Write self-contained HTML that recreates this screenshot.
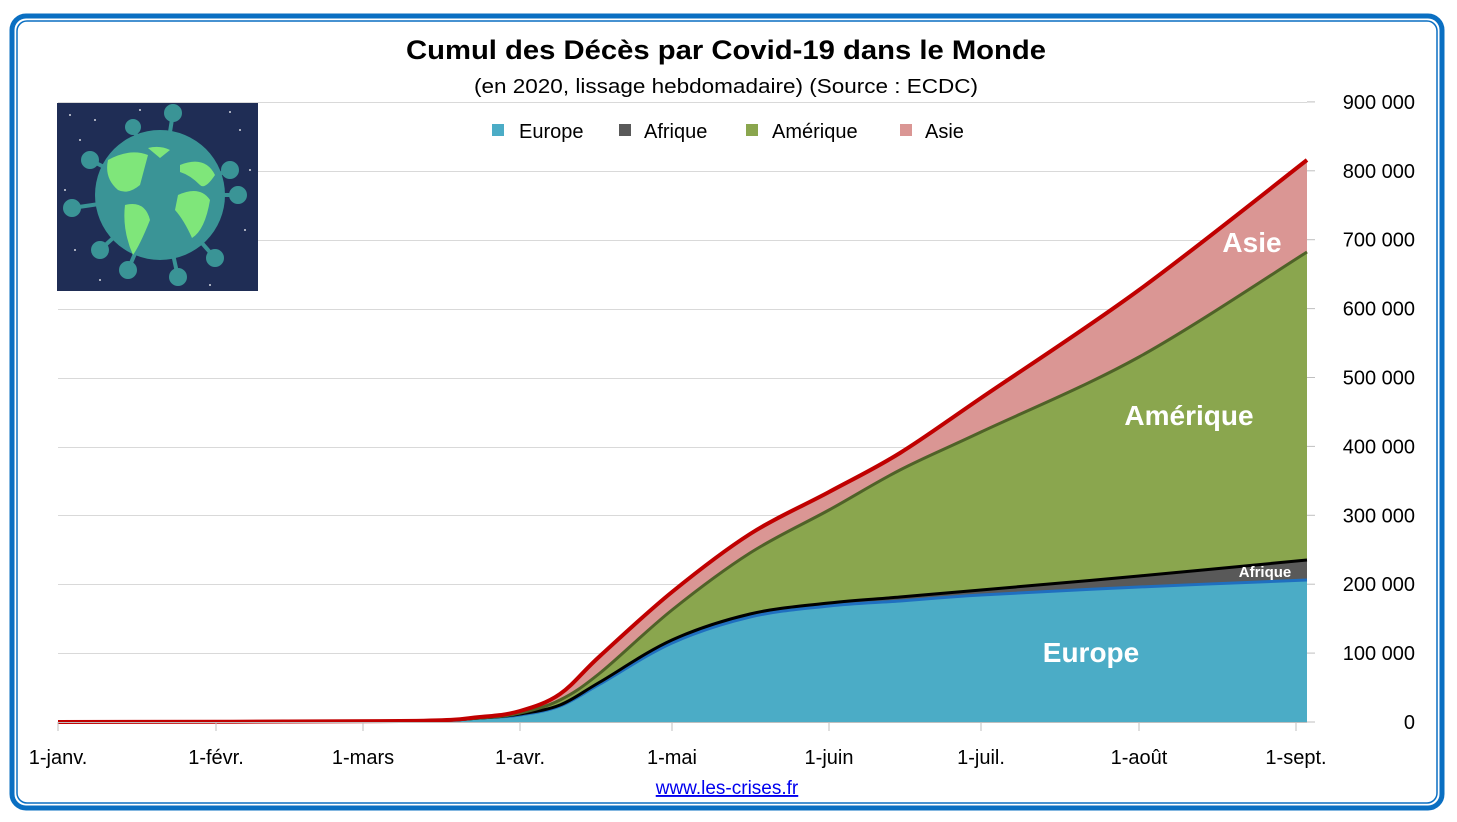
<!DOCTYPE html>
<html><head><meta charset="utf-8"><style>
html,body{margin:0;padding:0;background:#fff;}
body{width:1457px;height:822px;overflow:hidden;position:relative;font-family:"Liberation Sans","DejaVu Sans",sans-serif;}
</style></head><body>
<svg id="s" width="1457" height="822" xmlns="http://www.w3.org/2000/svg" style="position:absolute;left:0;top:0">
<rect x="12" y="16" width="1430" height="792" rx="14" fill="none" stroke="#0a6fc2" stroke-width="5"/>
<rect x="17" y="21" width="1420" height="782" rx="10" fill="none" stroke="#0a6fc2" stroke-width="1.5"/>
<g stroke="#d9d9d9" stroke-width="1">
<line x1="58" x2="1307" y1="102.5" y2="102.5"/><line x1="58" x2="1307" y1="171.5" y2="171.5"/>
<line x1="58" x2="1307" y1="240.5" y2="240.5"/><line x1="58" x2="1307" y1="309.5" y2="309.5"/>
<line x1="58" x2="1307" y1="378.5" y2="378.5"/><line x1="58" x2="1307" y1="447.5" y2="447.5"/>
<line x1="58" x2="1307" y1="515.5" y2="515.5"/><line x1="58" x2="1307" y1="584.5" y2="584.5"/>
<line x1="58" x2="1307" y1="653.5" y2="653.5"/>
</g>
<g id="areas"></g>
<g stroke="#bfbfbf" stroke-width="1">
<line x1="58" x2="1307" y1="722.5" y2="722.5"/>
</g>
<g stroke="#bfbfbf" id="ticks"></g>
<rect x="57" y="103" width="201" height="188" fill="#1f2d55"/>
<g fill="#fff" opacity="0.8">
<circle cx="70" cy="115" r="1"/><circle cx="95" cy="120" r="1"/><circle cx="240" cy="130" r="1"/><circle cx="230" cy="112" r="1"/><circle cx="65" cy="190" r="1"/><circle cx="75" cy="250" r="1"/><circle cx="245" cy="230" r="1"/><circle cx="250" cy="170" r="1"/><circle cx="100" cy="280" r="1"/><circle cx="210" cy="285" r="1"/><circle cx="140" cy="110" r="1"/><circle cx="80" cy="140" r="1"/>
</g>
<g stroke="#3a9496" stroke-width="4" fill="#3a9496">
<line x1="160" y1="195" x2="173" y2="113"/><circle cx="173" cy="113" r="7"/>
<line x1="160" y1="195" x2="90" y2="160"/><circle cx="90" cy="160" r="7"/>
<line x1="160" y1="195" x2="72" y2="208"/><circle cx="72" cy="208" r="7"/>
<line x1="160" y1="195" x2="230" y2="170"/><circle cx="230" cy="170" r="7"/>
<line x1="160" y1="195" x2="238" y2="195"/><circle cx="238" cy="195" r="7"/>
<line x1="160" y1="195" x2="128" y2="270"/><circle cx="128" cy="270" r="7"/>
<line x1="160" y1="195" x2="178" y2="277"/><circle cx="178" cy="277" r="7"/>
<line x1="160" y1="195" x2="215" y2="258"/><circle cx="215" cy="258" r="7"/>
<line x1="160" y1="195" x2="100" y2="250"/><circle cx="100" cy="250" r="7"/>
<line x1="160" y1="195" x2="133" y2="127"/><circle cx="133" cy="127" r="6"/>
</g>
<circle cx="160" cy="195" r="65" fill="#3a9496"/>
<path d="M108 160 Q130 148 148 155 L140 185 Q128 195 118 190 Q104 178 108 160Z M125 205 Q145 200 150 220 Q140 245 133 255 Q122 230 125 205Z M180 165 Q205 155 215 175 Q205 190 200 185 Q190 175 180 172Z M178 195 Q200 185 210 200 Q205 230 192 238 Q184 220 175 210Z M148 148 Q160 145 170 150 L160 158Z" fill="#7fe67a"/>
<g font-size="27" font-weight="bold" text-anchor="middle" fill="#000"><text x="726" y="59" textLength="640" lengthAdjust="spacingAndGlyphs">Cumul des Décès par Covid-19 dans le Monde</text></g>
<text x="726" y="93" font-size="20" text-anchor="middle" textLength="504" lengthAdjust="spacingAndGlyphs">(en 2020, lissage hebdomadaire) (Source : ECDC)</text>
<g font-size="20">
<rect x="492" y="124" width="12" height="12" fill="#4bacc6"/><text x="519" y="138">Europe</text>
<rect x="619" y="124" width="12" height="12" fill="#595959"/><text x="644" y="138">Afrique</text>
<rect x="746" y="124" width="12" height="12" fill="#8aa64e"/><text x="772" y="138">Amérique</text>
<rect x="900" y="124" width="12" height="12" fill="#da9694"/><text x="925" y="138">Asie</text>
</g>
<g font-size="20" id="ylab"></g>
<g font-size="20" text-anchor="middle" id="xlab"></g>
<g fill="#fff" font-weight="bold" text-anchor="middle">
<text x="1252" y="252" font-size="28">Asie</text>
<text x="1189" y="425" font-size="28">Amérique</text>
<text x="1091" y="662" font-size="28">Europe</text>
<text x="1265" y="577" font-size="15">Afrique</text>
</g>
<text x="727" y="794" font-size="19" fill="#0000ee" text-anchor="middle" text-decoration="underline">www.les-crises.fr</text>
</svg>
<script>
const X=[58,400,480,520,560,600,672,750,829,900,981,1139,1307];
const T=[722,721,717,711,694,656,592,534,492,453,398,290,160];
const M=[722,721,718,713,700,673,610,553,510,470,432,357,252];
const A=[722,721,718,714,705,682,640,614,603,597,590,576,560];
const E=[722,721,718,715,706,684,643,617,606,601,595,587,580];
function sp(xs,ys){let d="M"+xs[0]+" "+ys[0];for(let i=0;i<xs.length-1;i++){const p0=i?i-1:i,p3=i+2<xs.length?i+2:i+1;const c1x=xs[i]+(xs[i+1]-xs[p0])/6,c1y=ys[i]+(ys[i+1]-ys[p0])/6,c2x=xs[i+1]-(xs[p3]-xs[i])/6,c2y=ys[i+1]-(ys[p3]-ys[i])/6;d+=` C${c1x.toFixed(1)} ${c1y.toFixed(1)} ${c2x.toFixed(1)} ${c2y.toFixed(1)} ${xs[i+1]} ${ys[i+1]}`;}return d;}
const g=document.getElementById("areas");let h="";
const close=" L1307 722 L58 722Z";
h+=`<path d="${sp(X,T)}${close}" fill="#da9694"/>`;
h+=`<path d="${sp(X,M)}${close}" fill="#8aa64e"/>`;
h+=`<path d="${sp(X,A)}${close}" fill="#595959"/>`;
h+=`<path d="${sp(X,E)}${close}" fill="#4bacc6"/>`;
h+=`<path d="${sp(X,E)}" fill="none" stroke="#1f6fc0" stroke-width="3"/>`;
h+=`<path d="${sp(X,A)}" fill="none" stroke="#000" stroke-width="3"/>`;
h+=`<path d="${sp(X,M)}" fill="none" stroke="#4f6228" stroke-width="3"/>`;
h+=`<path d="${sp(X,T)}" fill="none" stroke="#c00000" stroke-width="4"/>`;
g.innerHTML=h;
let t="",yl="";
const labs=["0","100 000","200 000","300 000","400 000","500 000","600 000","700 000","800 000","900 000"];
for(let i=0;i<10;i++){const y=722-i*68.9;t+=`<line x1="1307" x2="1315" y1="${y}" y2="${y}"/>`;yl+=`<text x="1415" y="${y+7}" text-anchor="end">${labs[i]}</text>`;}
const xm=[[58,"1-janv."],[216,"1-févr."],[363,"1-mars"],[520,"1-avr."],[672,"1-mai"],[829,"1-juin"],[981,"1-juil."],[1139,"1-août"],[1296,"1-sept."]];
let xl="";for(const [x,l] of xm){t+=`<line x1="${x}" x2="${x}" y1="722" y2="731"/>`;xl+=`<text x="${x}" y="764">${l}</text>`;}
document.getElementById("ticks").innerHTML=t;
document.getElementById("ylab").innerHTML=yl;
document.getElementById("xlab").innerHTML=xl;
</script>
</body></html>
